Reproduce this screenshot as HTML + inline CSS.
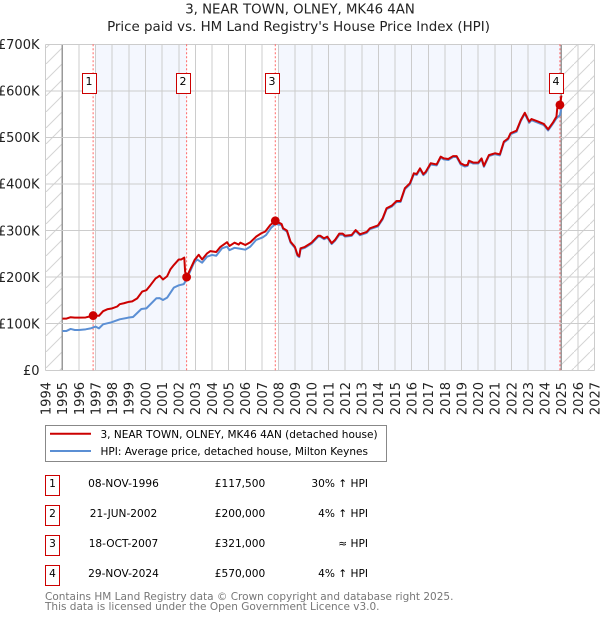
<!DOCTYPE html>
<html lang="en">
<head>
<meta charset="utf-8">
<title>3, NEAR TOWN, OLNEY, MK46 4AN</title>
<style>
html,body{margin:0;padding:0;background:#fff;width:600px;height:620px;overflow:hidden}
svg{display:block;font-family:"DejaVu Sans","Liberation Sans",sans-serif}
</style>
</head>
<body>
<svg id="chart" xmlns="http://www.w3.org/2000/svg" width="600" height="620" viewBox="0 0 600 620">
  <defs>
    <pattern id="hatch" patternUnits="userSpaceOnUse" width="16" height="16" patternTransform="translate(-2,0)">
      <path d="M-1,17 L17,-1" stroke="#d4d4d4" stroke-width="1" fill="none"/>
    </pattern>
  </defs>
  <rect width="600" height="620" fill="#fff"/>
  <text x="300" y="13.5" text-anchor="middle" font-size="13.3" fill="#222">3, NEAR TOWN, OLNEY, MK46 4AN</text>
  <text x="298.5" y="31" text-anchor="middle" font-size="13.4" fill="#222">Price paid vs. HM Land Registry's House Price Index (HPI)</text>
  <g id="plot"></g>

  <g>
    <rect x="45.5" y="425.5" width="341" height="36" fill="#fff" stroke="#888" stroke-width="1"/>
    <line x1="50" x2="91" y1="433.7" y2="433.7" stroke="#c00" stroke-width="2"/>
    <text x="100.5" y="438" font-size="10.5" fill="#000">3, NEAR TOWN, OLNEY, MK46 4AN (detached house)</text>
    <line x1="50" x2="91" y1="451" y2="451" stroke="#5b8fd4" stroke-width="2"/>
    <text x="100.5" y="455" font-size="10.5" fill="#000">HPI: Average price, detached house, Milton Keynes</text>
  </g>

  <g font-size="10.6" fill="#000">
    <g>
      <rect x="45.5" y="475.5" width="14" height="20" fill="#fff" stroke="#c00"/>
      <text x="52.5" y="487" text-anchor="middle">1</text>
      <text x="123.5" y="487" text-anchor="middle">08-NOV-1996</text>
      <text x="240" y="487" text-anchor="middle">£117,500</text>
      <text x="368" y="487" text-anchor="end">30% ↑ HPI</text>
    </g>
    <g>
      <rect x="45.5" y="505.5" width="14" height="20" fill="#fff" stroke="#c00"/>
      <text x="52.5" y="517" text-anchor="middle">2</text>
      <text x="123.5" y="517" text-anchor="middle">21-JUN-2002</text>
      <text x="240" y="517" text-anchor="middle">£200,000</text>
      <text x="368" y="517" text-anchor="end">4% ↑ HPI</text>
    </g>
    <g>
      <rect x="45.5" y="535.5" width="14" height="20" fill="#fff" stroke="#c00"/>
      <text x="52.5" y="547" text-anchor="middle">3</text>
      <text x="123.5" y="547" text-anchor="middle">18-OCT-2007</text>
      <text x="240" y="547" text-anchor="middle">£321,000</text>
      <text x="368" y="547" text-anchor="end">≈ HPI</text>
    </g>
    <g>
      <rect x="45.5" y="565.5" width="14" height="20" fill="#fff" stroke="#c00"/>
      <text x="52.5" y="577" text-anchor="middle">4</text>
      <text x="123.5" y="577" text-anchor="middle">29-NOV-2024</text>
      <text x="240" y="577" text-anchor="middle">£570,000</text>
      <text x="368" y="577" text-anchor="end">4% ↑ HPI</text>
    </g>
  </g>

  <text x="45" y="600" font-size="10.5" fill="#777">Contains HM Land Registry data © Crown copyright and database right 2025.</text>
  <text x="45" y="610" font-size="10.5" fill="#777">This data is licensed under the Open Government Licence v3.0.</text>
</svg>
<script>
const yearTicks = [1994,1995,1996,1997,1998,1999,2000,2001,2002,2003,2004,2005,2006,2007,2008,2009,2010,2011,2012,2013,2014,2015,2016,2017,2018,2019,2020,2021,2022,2023,2024,2025,2026,2027];
const priceTicks = [0,100000,200000,300000,400000,500000,600000,700000];
const saleYears = [1996.85,2002.47,2007.8,2024.91];
const salePrices = [117500,200000,321000,570000];
const saleLabels = ["1","2","3","4"];
const dataStartYear = 1995;
const dataEndYear = 2025;
const priceYears = [1995,1995.25,1995.5,1995.75,1996,1996.4,1996.7,1996.85,1997,1997.2,1997.45,1997.7,1998,1998.3,1998.45,1998.7,1999,1999.2,1999.5,1999.8,2000.05,2000.3,2000.6,2000.85,2001.05,2001.3,2001.5,2001.7,2002,2002.15,2002.33,2002.38,2002.47,2002.65,2002.95,2003.2,2003.4,2003.7,2003.9,2004.25,2004.5,2004.9,2005.05,2005.35,2005.6,2005.7,2006,2006.3,2006.65,2006.95,2007.2,2007.5,2007.8,2008.18,2008.27,2008.5,2008.72,2008.98,2009.14,2009.24,2009.32,2009.58,2009.98,2010.38,2010.5,2010.73,2010.93,2011.19,2011.39,2011.65,2011.85,2011.99,2012.39,2012.63,2012.89,2013.29,2013.49,2013.97,2014.25,2014.49,2014.8,2015.09,2015.33,2015.59,2015.89,2016.13,2016.3,2016.5,2016.7,2016.85,2017.14,2017.5,2017.74,2017.93,2018.2,2018.49,2018.7,2018.94,2019.2,2019.36,2019.44,2019.7,2020,2020.2,2020.34,2020.64,2021,2021.3,2021.54,2021.8,2021.94,2022.3,2022.56,2022.8,2023.06,2023.2,2023.6,2023.94,2024.2,2024.5,2024.7,2024.77,2024.91,2025];
const priceValues = [111,111,114,113,113,113.5,116,117.5,117,117,127,131,133,137,142,144,147,148,154.5,169,172,183,197,203,195,202,217,226,238,238,242,212,200,214,237,248,238,251,256,254,265,275,267,274,270,274,269,275,287,294,298,312,321,314,305,300,276,265,247.5,245,262,265,274,289,289,283.5,287,273,280,293.5,293.5,289,290.6,301,292,297,305,311,326,348,353.5,363.5,363.5,391,401.5,423,421.5,433.7,421,426.5,444.5,442,458.7,455,453.7,460,460,444.5,440,441,450,446,446,455,439,462,466,463.8,491,498,509,514.5,537.5,553,534,539.6,534,529,517.5,532.5,544.6,570,570,590];
const hpiYears = [1995,1995.25,1995.5,1995.75,1996,1996.4,1996.7,1996.85,1997,1997.2,1997.45,1997.95,1998.45,1998.95,1999.25,1999.75,2000.05,2000.65,2000.85,2001.05,2001.3,2001.7,2002,2002.3,2002.5,2002.9,2003.1,2003.4,2003.7,2004,2004.25,2004.6,2004.9,2005.05,2005.35,2005.7,2006,2006.3,2006.65,2007.05,2007.25,2007.55,2007.8,2008.18,2008.27,2008.5,2008.72,2008.98,2009.14,2009.24,2009.32,2009.58,2009.98,2010.38,2010.5,2010.73,2010.93,2011.19,2011.39,2011.65,2011.85,2011.99,2012.39,2012.63,2012.89,2013.29,2013.49,2013.97,2014.25,2014.49,2014.8,2015.09,2015.33,2015.59,2015.89,2016.13,2016.3,2016.5,2016.7,2016.85,2017.14,2017.5,2017.74,2017.93,2018.2,2018.49,2018.7,2018.94,2019.2,2019.36,2019.44,2019.7,2020,2020.2,2020.34,2020.64,2021,2021.3,2021.54,2021.8,2021.94,2022.3,2022.56,2022.8,2023.06,2023.2,2023.6,2023.94,2024.2,2024.5,2024.7,2024.91,2025];
const hpiValues = [84.5,84.5,88.8,86.6,86.6,88,90,92,93.8,90,98.8,103,109.5,113,114.5,131.7,133,154.6,155,151,156,177.5,182.5,185,197.6,229.8,238,231,244,247.7,246,262,265.6,258,263,261,259,265.6,280,285.6,290.6,306,314,312,303,298,274,263,245.5,243,260,263,272,287,287,281.5,285,271,278,291,291,287,288.6,299,290,295,303,309,324,346,351.5,361.5,361.5,389,399,421,419.5,431.5,419,424,442,440,456.5,453,451.5,458,458,442,437.5,439,448,444,444,453,437,460,464,461.5,489,496,507,512,535.5,551,531.5,537,531.5,526.5,515,530,541,548,563];

const NS = "http://www.w3.org/2000/svg";
const plot = document.getElementById("plot");
const plotLeft = 45.7, plotRight = 594.7, plotTop = 44.3, plotBottom = 370.3;
const maxPrice = 700000;
function xScale(year){ return plotLeft + (year - yearTicks[0]) * (plotRight - plotLeft) / (yearTicks[yearTicks.length-1] - yearTicks[0]); }
function yScale(price){ return plotBottom - price * (plotBottom - plotTop) / maxPrice; }
function add(tag, attrs){
  const el = document.createElementNS(NS, tag);
  for (const k in attrs) el.setAttribute(k, attrs[k]);
  plot.appendChild(el);
  return el;
}
function bandRect(from, to, fill, name){
  const el = add("rect", {x: xScale(from), y: plotTop, width: xScale(to) - xScale(from), height: plotBottom - plotTop, fill: fill});
  
  
}
bandRect(Math.ceil(saleYears[0]), saleYears[1], "#f4f7fe", "shaded-band-1");
bandRect(Math.ceil(saleYears[2]), dataEndYear, "#f4f7fe", "shaded-band-2");
bandRect(yearTicks[0], dataStartYear, "url(#hatch)", "no-data-hatch-left");
bandRect(dataEndYear, yearTicks[yearTicks.length-1], "url(#hatch)", "no-data-hatch-right");

yearTicks.forEach(function(yr){
  const x = xScale(yr);
  const edge = yr === dataStartYear || yr === dataEndYear;
  const gl = add("line", {x1: x, x2: x, y1: plotTop, y2: plotBottom, stroke: edge ? "#999" : "#ccc", "stroke-width": edge ? 1.5 : 1, "shape-rendering": "crispEdges"});
  
  
  const t = add("text", {transform: "translate(" + (x + 4.8) + ",382) rotate(-90)", "text-anchor": "end", "font-size": 13, fill: "#222"});
  t.textContent = String(yr);
  
  
});
priceTicks.forEach(function(p){
  const y = yScale(p);
  const gl = add("line", {x1: plotLeft, x2: plotRight, y1: y, y2: y, stroke: "#ccc", "stroke-width": 1, "shape-rendering": "crispEdges"});
  
  
  const t = add("text", {x: 39.5, y: y + 4.7, "text-anchor": "end", "font-size": 13, fill: "#222"});
  t.textContent = p === 0 ? "£0" : "£" + (p / 1000) + "K";
  
  
});
saleYears.forEach(function(yr){
  const x = xScale(yr);
  const d = add("line", {x1: x, x2: x, y1: plotTop, y2: plotBottom, stroke: "#f66", "stroke-width": 1, "stroke-dasharray": "2,2"});
  
  
});
function linePath(years, values){
  return years.map(function(yr, i){ return (i ? "L" : "M") + xScale(yr).toFixed(2) + "," + yScale(values[i] * 1000).toFixed(2); }).join(" ");
}
const hpiLine = add("path", {d: linePath(hpiYears, hpiValues), fill: "none", stroke: "#5b8fd4", "stroke-width": 2, "stroke-linejoin": "round"});


const priceLine = add("path", {d: linePath(priceYears, priceValues), fill: "none", stroke: "#c00", "stroke-width": 2, "stroke-linejoin": "round"});


saleYears.forEach(function(yr, i){
  const m = add("circle", {cx: xScale(yr), cy: yScale(salePrices[i]), r: 4.4, fill: "#c00"});
  
  
});
saleYears.forEach(function(yr, i){
  const left = Math.floor(xScale(yr) - 10.2) + 0.5;
  const b = add("rect", {x: left, y: 73.5, width: 14, height: 20, fill: "#fff", stroke: "#c00", "stroke-width": 1});
  
  
  const t = add("text", {x: left + 6.5, y: 85, "text-anchor": "middle", "font-size": 11, fill: "#000"});
  t.textContent = saleLabels[i];
  
  
});
</script>
</body>
</html>
